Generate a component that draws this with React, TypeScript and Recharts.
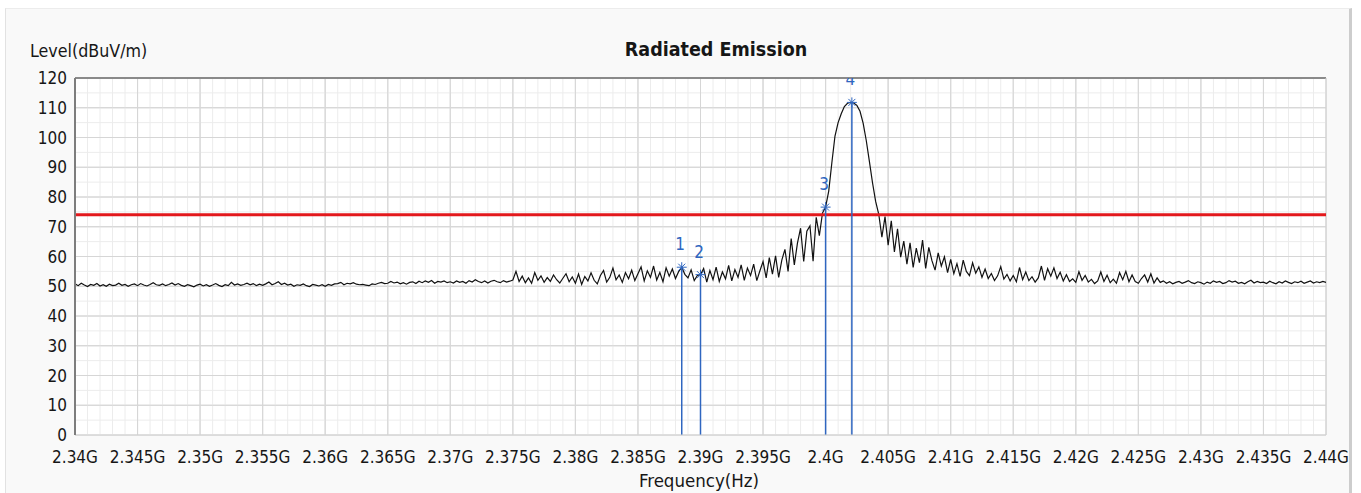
import {
  ComposedChart,
  CartesianGrid,
  Line,
  ReferenceLine,
  Scatter,
  XAxis,
  YAxis,
} from "recharts";

// Radiated emission sweep, 2.34–2.44 GHz, one reading every 0.25 MHz.
const STEP = 0.00025;

const floorLowStart = 2.34;
const floorLow = [
  50.8, 50.2, 51.0, 50.4, 49.9, 50.6, 50.3, 50.9, 50.1, 50.5, 50.0, 50.7, 50.2, 50.4, 51.0, 50.3, 50.6, 50.0, 50.5, 50.8,
  50.2, 50.9, 50.4, 50.1, 50.6, 51.2, 50.5, 50.3, 50.8, 50.2, 50.6, 51.1, 50.4, 50.9, 50.3, 50.0, 50.5, 50.2, 49.8, 50.4,
  50.7, 50.1, 50.5, 50.0, 50.4, 50.9, 50.3, 49.9, 50.5, 50.2, 51.3, 50.4, 50.8, 50.3, 50.6, 51.0, 50.5, 50.9, 50.2, 50.7,
  50.3, 50.8, 51.4, 50.5, 50.9, 51.5, 50.6, 51.0, 50.4, 50.7, 50.0, 50.5, 50.3, 50.8, 50.2, 49.9, 50.6, 50.4, 50.1, 50.5,
  50.0, 50.6, 50.3, 50.8, 50.9, 51.3, 50.5, 51.0, 50.8, 51.2, 50.7, 50.5, 50.6, 50.4, 50.2, 50.8, 50.6, 51.0, 51.3, 50.9,
  51.0, 51.6, 51.1, 51.4, 50.8, 51.2, 50.7, 51.3, 51.5, 50.9, 51.7, 51.2, 51.8, 51.3, 51.9, 51.0, 51.6, 51.4, 51.8, 51.2,
];

const skirtLowStart = 2.37;
const skirtLow = [
  51.5, 51.1, 51.8, 51.3, 51.6, 51.0, 51.9, 51.4, 52.2, 51.6, 51.2, 51.8, 51.1, 51.7, 52.0, 51.5, 51.2, 51.9, 51.4, 51.7,
  52.1, 55.0, 51.6, 53.4, 51.2, 52.8, 51.0, 54.6, 52.0, 53.5, 51.3, 52.9, 51.6, 53.8, 52.2, 51.1, 52.7, 54.2, 51.5, 53.1,
  51.0, 54.1, 50.6, 53.3, 51.8, 54.5, 52.0, 50.8, 53.6, 55.3, 51.4, 53.0, 56.1, 52.2, 53.8, 51.3, 54.6, 52.5, 55.4, 51.9,
  54.2, 56.5, 51.8, 55.2, 53.0, 56.8, 52.1, 54.6, 51.5, 56.2, 53.4, 55.8, 52.6, 54.9, 56.4, 54.0, 52.8, 55.5, 51.9, 53.6,
  53.9, 56.0, 51.4, 55.3, 52.2, 56.4, 51.6, 54.8, 52.5, 57.0, 51.8, 55.6, 53.0, 57.2, 52.0, 56.1, 53.6, 57.4, 51.9, 55.2,
  58.3, 52.8, 59.6, 54.1, 60.2, 53.0, 58.8, 62.4, 55.0, 66.0, 57.2, 64.5, 69.5, 58.3, 68.5, 70.3, 58.4, 73.2, 67.0, 74.6,
];

const carrierStart = 2.4;
const carrier = [
  76.6, 82.0, 91.5, 100.5, 105.0, 108.0, 110.4, 111.5, 111.8, 111.6,
  110.8, 108.8, 104.8, 99.0, 92.0, 84.8, 78.5, 74.2, 66.5, 73.4,
];

const skirtHighStart = 2.405;
const skirtHigh = [
  63.8, 72.0, 61.5, 69.3, 59.8, 65.2, 57.4, 64.6, 56.3, 62.8, 57.9, 65.5, 56.0, 63.1, 58.6, 55.4, 61.2, 56.8, 59.9, 54.6,
  59.0, 54.2, 57.6, 53.3, 58.8, 55.0, 53.6, 57.9, 54.4, 56.5, 53.0, 55.8, 52.6, 54.3, 51.9, 53.5, 56.6, 52.4, 54.0, 51.8,
  53.6, 51.5, 56.3, 52.2, 54.8, 51.9, 53.2, 51.4, 52.8, 56.8, 52.0, 55.9, 53.4, 56.2, 52.6, 54.7, 51.8, 53.9, 51.6, 52.5,
];

const floorHighStart = 2.42;
const floorHigh = [
  51.3, 54.9, 52.0, 53.6, 51.4, 52.3, 50.9, 51.8, 54.8, 51.6, 53.7, 51.2, 52.4, 51.0, 54.6, 52.2, 55.0, 51.5, 53.8, 51.6,
  51.0, 52.6, 53.8, 51.4, 54.2, 51.1, 52.8, 51.3, 51.8, 51.0, 51.5, 50.8, 51.3, 51.6, 51.0, 51.4, 51.9, 51.2, 50.9, 51.5,
  51.2, 50.7, 51.4, 51.0, 51.8, 51.3, 51.6, 50.9, 51.2, 51.9, 51.4, 51.7, 51.0, 51.3, 50.8, 51.5, 52.0, 51.1, 51.6, 51.2,
  51.4, 50.9, 51.7, 51.2, 50.8, 51.5, 51.1, 51.8, 51.3, 50.9, 51.5, 51.2, 51.7, 51.0, 51.4, 51.8, 51.1, 51.5, 51.2, 51.6,
  51.3,
];

// Peak-search markers
const markerNames = ["1", "2", "3", "4"];
const markerFreqs = [2.3885, 2.39, 2.4, 2.4021];
const markerLevels = [56.4, 53.9, 76.6, 111.8];

const LIMIT = 74;

const xTicks = [
  2.34, 2.345, 2.35, 2.355, 2.36, 2.365, 2.37, 2.375, 2.38, 2.385, 2.39,
  2.395, 2.4, 2.405, 2.41, 2.415, 2.42, 2.425, 2.43, 2.435, 2.44,
];
const yTicks = [0, 10, 20, 30, 40, 50, 60, 70, 80, 90, 100, 110, 120];

// fine grid: every 1 MHz and every 5 dB
const xMinor = Array.from({ length: 99 }, (_, i) => +(2.341 + i * 0.001).toFixed(3));
const yMinor = Array.from({ length: 23 }, (_, i) => 5 + i * 5);

const segments = [
  { start: floorLowStart, values: floorLow },
  { start: skirtLowStart, values: skirtLow },
  { start: carrierStart, values: carrier },
  { start: skirtHighStart, values: skirtHigh },
  { start: floorHighStart, values: floorHigh },
];

const trace = segments.flatMap(({ start, values }) =>
  values.map((level, i) => ({ freq: +(start + i * STEP).toFixed(5), level })),
);

const markers = markerNames.map((name, i) => ({
  name,
  freq: markerFreqs[i],
  level: markerLevels[i],
}));

const FONT = "'DejaVu Sans Condensed', 'DejaVu Sans', sans-serif";
const BLUE = "#2f66c0";
const INK = "#161616";

const fmtFreq = (v: number) => `${parseFloat(v.toFixed(3))}G`;

function MarkerGlyph(props: any) {
  const { cx, cy, payload } = props;
  if (cx == null || cy == null) return null;
  const r = 5;
  const d = r * 0.7;
  return (
    <g>
      <line x1={cx - r} y1={cy} x2={cx + r} y2={cy} stroke={BLUE} strokeWidth={1} />
      <line x1={cx} y1={cy - r} x2={cx} y2={cy + r} stroke={BLUE} strokeWidth={1} />
      <line x1={cx - d} y1={cy - d} x2={cx + d} y2={cy + d} stroke={BLUE} strokeWidth={1} />
      <line x1={cx - d} y1={cy + d} x2={cx + d} y2={cy - d} stroke={BLUE} strokeWidth={1} />
      <text
        x={cx - 1.5}
        y={cy - 17}
        textAnchor="middle"
        fill={BLUE}
        fontSize={17}
        fontFamily={FONT}
      >
        {payload.name}
      </text>
    </g>
  );
}

export default function App() {
  return (
    <div
      style={{
        position: "fixed",
        left: 0,
        top: 0,
        width: 1361,
        height: 493,
        background: "#ffffff",
        overflow: "hidden",
        fontFamily: FONT,
        color: INK,
      }}
    >
      <div
        style={{
          position: "absolute",
          left: 5,
          top: 8,
          width: 1343,
          height: 500,
          background: "#f9f9f9",
          borderLeft: "1px solid #e2e2e2",
          borderTop: "1px solid #ececec",
          borderRight: "3px solid #cdcdcd",
        }}
      />
      <div style={{ position: "absolute", left: 30, top: 42, fontSize: 17.7, lineHeight: "18px" }}>
        Level(dBuV/m)
      </div>
      <div
        style={{
          position: "absolute",
          left: 566,
          top: 40,
          width: 300,
          textAlign: "center",
          fontSize: 19.5,
          lineHeight: "20px",
          fontWeight: "bold",
        }}
      >
        Radiated Emission
      </div>
      <div
        style={{
          position: "absolute",
          left: 549,
          top: 471,
          width: 300,
          textAlign: "center",
          fontSize: 18.5,
          lineHeight: "19px",
        }}
      >
        Frequency(Hz)
      </div>

      <div style={{ position: "absolute", left: 0, top: 0 }}>
        <ComposedChart
          width={1361}
          height={493}
          margin={{ top: 78, right: 35, bottom: 0, left: 25 }}
        >
          <CartesianGrid stroke="#d6d6d6" strokeWidth={1} fill="#ffffff" />
          {xMinor.map((f) => (
            <ReferenceLine key={`vx${f}`} x={f} stroke="#ececec" strokeWidth={1} />
          ))}
          {yMinor.map((v) => (
            <ReferenceLine key={`hy${v}`} y={v} stroke={v % 10 === 0 ? "#d6d6d6" : "#ececec"} strokeWidth={1} />
          ))}
          {xTicks.slice(1, -1).map((f) => (
            <ReferenceLine key={`mx${f}`} x={f} stroke="#d6d6d6" strokeWidth={1} />
          ))}
          <XAxis
            type="number"
            dataKey="freq"
            domain={[2.34, 2.44]}
            ticks={xTicks}
            interval={0}
            tickFormatter={fmtFreq}
            tick={{ fill: INK, fontSize: 17, fontFamily: FONT }}
            tickLine={false}
            tickMargin={10}
            axisLine={{ stroke: "#d0d0d0" }}
            height={58}
            allowDataOverflow
          />
          <YAxis
            type="number"
            domain={[0, 120]}
            ticks={yTicks}
            interval={0}
            tick={{ fill: INK, fontSize: 17, fontFamily: FONT }}
            tickLine={false}
            axisLine={{ stroke: "#7d7d7d", strokeWidth: 2 }}
            width={50}
            allowDataOverflow
          />
          <ReferenceLine y={120} stroke="#8a8a8a" strokeWidth={2} />
          <ReferenceLine x={2.44} stroke="#d0d0d0" />
          <Line
            data={trace}
            dataKey="level"
            type="linear"
            stroke="#111111"
            strokeWidth={1.2}
            dot={false}
            isAnimationActive={false}
          />
          <ReferenceLine y={LIMIT} stroke="#e3191c" strokeWidth={3} />
          {markers.map((m) => (
            <ReferenceLine
              key={m.name}
              segment={[
                { x: m.freq, y: 0 },
                { x: m.freq, y: m.level },
              ]}
              stroke={BLUE}
              strokeWidth={1.5}
            />
          ))}
          <Scatter
            data={markers}
            dataKey="level"
            shape={<MarkerGlyph />}
            isAnimationActive={false}
          />
        </ComposedChart>
      </div>
    </div>
  );
}
